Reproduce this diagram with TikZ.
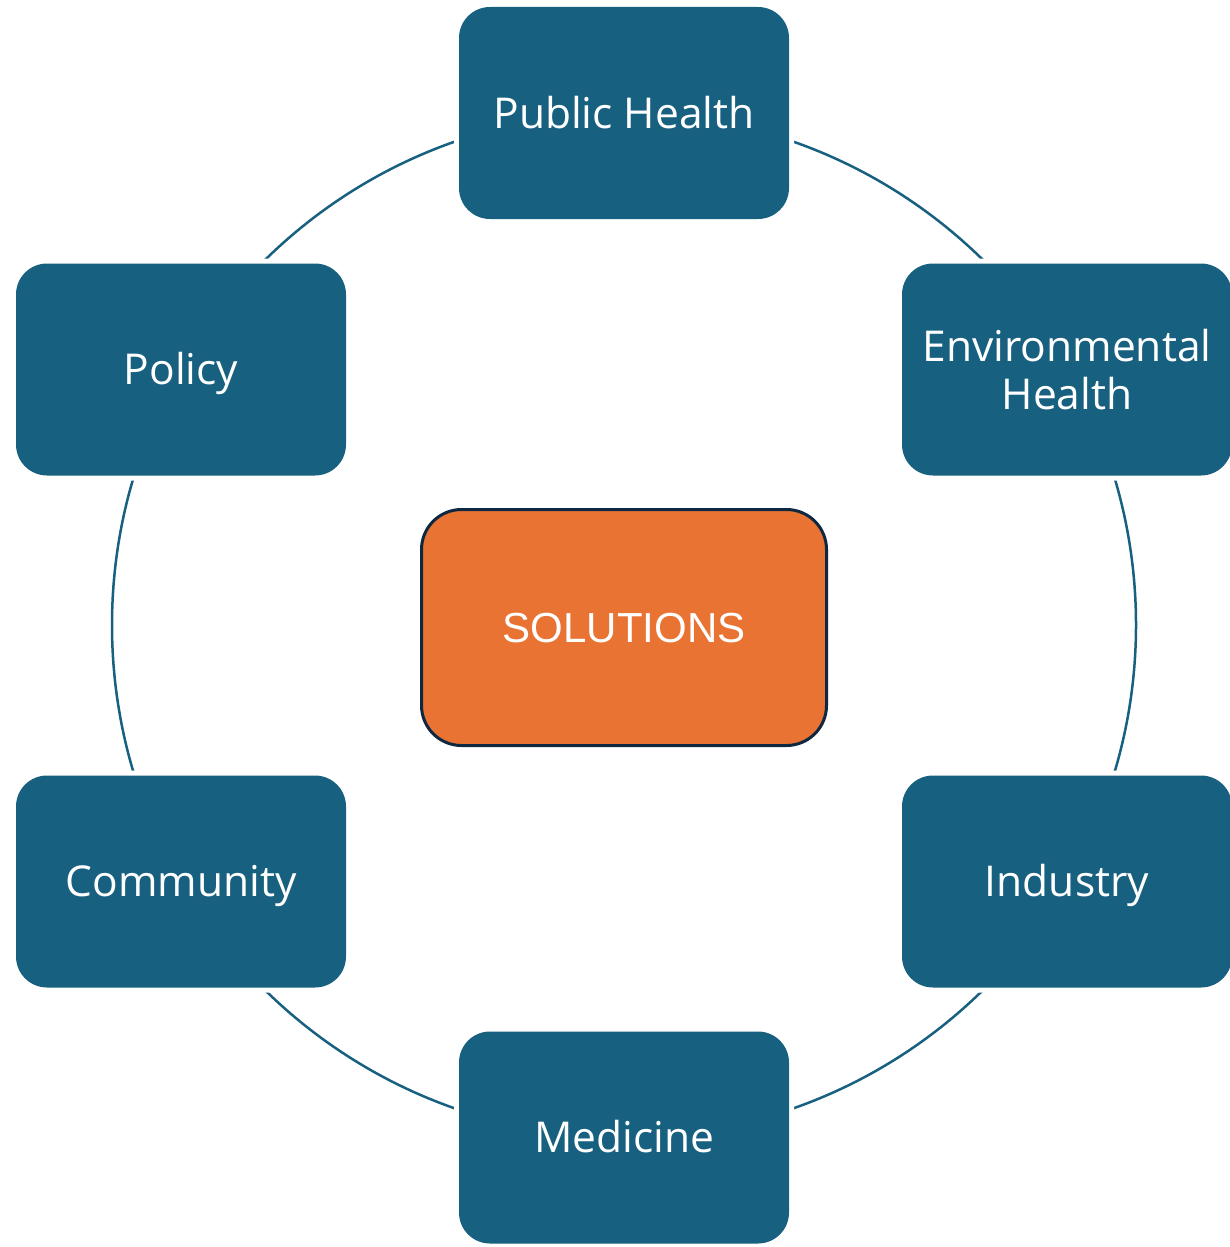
\documentclass[tikz,border=0pt]{standalone}
\usepackage{fontspec}
\setmainfont{Open Sans}
\newfontfamily\hubfont{Liberation Sans}
\definecolor{boxblue}{HTML}{17607F}
\definecolor{solorange}{HTML}{E97333}
\definecolor{solborder}{HTML}{0E2841}
\tikzset{
  ringline/.style={draw=boxblue, line width=2.5pt},
  topic/.style={rectangle, rounded corners=31pt, fill=boxblue, text=white,
    minimum width=330pt, minimum height=212pt, inner sep=0pt, align=center,
    font=\fontsize{42.5}{48}\selectfont,
    preaction={draw=white, line width=10pt}},
  oneline/.style={text height=30pt, text depth=0pt},
  hub/.style={rectangle, rounded corners=40pt, fill=solorange, draw=solborder,
    line width=3pt, text=white, minimum width=405pt, minimum height=236pt,
    inner sep=0pt, font=\hubfont\fontsize{42}{48}\selectfont, text height=30pt, text depth=0pt}
}
\begin{document}
\begin{tikzpicture}[x=1pt,y=-1pt]
\useasboundingbox (0,0) rectangle (1229,1247);
\coordinate (ringc) at (624,625);
\draw[ringline] (ringc) circle[radius=512];
\node[topic,oneline] (ph) at (624,113) {Public Health};
\node[topic,oneline] (pol) at (181,369.5) {Policy};
\node[topic] (env) at (1067,369.5) {Environmental\\Health};
\node[topic,oneline] (com) at (181,881.5) {Community};
\node[topic,oneline] (ind) at (1067,881.5) {Industry};
\node[topic,oneline] (med) at (624,1137.5) {Medicine};
\node[hub] (sol) at (624,627.5) {SOLUTIONS};
\end{tikzpicture}
\end{document}
